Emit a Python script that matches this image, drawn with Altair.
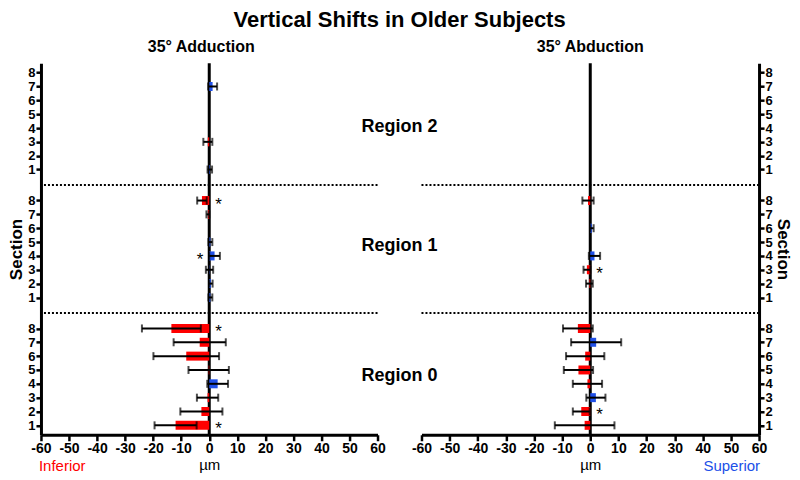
import altair as alt
import pandas as pd

# ---------------- data ----------------
sections = [1, 2, 3, 4, 5, 6, 7, 8]
region_names = ["Region 0", "Region 1", "Region 2"]

# 35° Adduction (µm), per section 1..8; None = not shown
add_r0_mean = [-12.0, -2.8, -0.6, 3.0, -0.2, -8.2, -3.4, -13.5]
add_r0_err = [7.5, 7.5, 3.8, 3.7, 7.2, 11.7, 9.3, 10.5]
add_r1_mean = [0.4, 0.6, 0.1, 1.9, 0.4, None, -0.5, -2.6]
add_r1_err = [0.7, 0.6, 1.3, 1.9, 0.7, None, 0.5, 1.7]
add_r2_mean = [0.2, None, -0.5, None, None, None, 1.2, None]
add_r2_err = [0.8, None, 1.6, None, None, None, 1.6, None]

# 35° Abduction (µm)
abd_r0_mean = [-2.0, -3.2, 2.0, -1.0, -4.2, -1.8, 2.1, -4.4]
abd_r0_err = [10.6, 3.0, 3.4, 5.2, 5.2, 6.8, 8.9, 5.3]
abd_r1_mean = [None, -0.3, -1.2, 1.5, None, 0.6, None, -0.8]
abd_r1_err = [None, 1.2, 1.2, 2.0, None, 0.6, None, 2.0]
abd_r2_mean = [None] * 8
abd_r2_err = [None] * 8

# significance markers: (region, section, side)
add_stars = [(0, 8, 1), (0, 1, 1), (1, 8, 1), (1, 4, -1)]
abd_stars = [(1, 3, 1), (0, 2, 1)]

# region label vertical placement, in section units
region_label_section = [4.6, 4.75, 4.1]

RED = "#FF0000"
BLUE = "#2050E8"
FONT = "Liberation Sans"
STEP = 9.24          # spacing between regions in section units
W_L, W_R, H = 337, 338, 372
GAP = 44


def pos(region, section):
    return region * STEP + section - 1


def frame(means_list, errs_list):
    rows = []
    for r, (ms, es) in enumerate(zip(means_list, errs_list)):
        for s, m, e in zip(sections, ms, es):
            if m is None:
                continue
            rows.append({"region": r, "section": s, "pos": pos(r, s), "mean": m,
                         "lo": m - e, "hi": m + e,
                         "dir": "neg" if m < 0 else "pos"})
    return pd.DataFrame(rows)


add_df = frame([add_r0_mean, add_r1_mean, add_r2_mean], [add_r0_err, add_r1_err, add_r2_err])
abd_df = frame([abd_r0_mean, abd_r1_mean, abd_r2_mean], [abd_r0_err, abd_r1_err, abd_r2_err])

sep_df = pd.DataFrame({"pos": [(pos(r - 1, 8) + pos(r, 1)) / 2 for r in (1, 2)]})
zero_df = pd.DataFrame({"v": [0]})
lab_df = pd.DataFrame({"name": region_names,
                       "pos": [pos(r, s) for r, s in enumerate(region_label_section)]})


def star_df(stars):
    return pd.DataFrame([{"pos": pos(r, s), "x": side * 3.3} for r, s, side in stars])


yscale = alt.Scale(domain=[-0.68, 2 * STEP + 7 + 0.68], nice=False, zero=False, padding=0)
xscale = alt.Scale(domain=[-60, 60], nice=False, zero=False, padding=0)


def y_axis(orient):
    extra = {"titleX": -15} if orient == "left" else {"titlePadding": 1}
    return alt.Axis(orient=orient, values=[pos(r, s) for r in range(3) for s in sections],
                    labelExpr="format(round(datum.value - floor((datum.value + 1.5) / %s) * %s) + 1, 'd')" % (STEP, STEP),
                    title="Section", titleFontSize=17, titleFontWeight="bold",
                    labelFontSize=13, labelFontWeight="bold", labelColor="black",
                    labelOverlap=False, labelBound=False,
                    tickSize=5, tickWidth=2.5, tickColor="black", domainWidth=3,
                    domainColor="black", grid=False, labelPadding=1,
                    titleColor="black", labelFont=FONT, titleFont=FONT, **extra)


x_axis = alt.Axis(values=list(range(-60, 61, 10)), labelExpr="'' + datum.value",
                  title="µm", titleFontSize=15, titleFontWeight="normal", titleColor="black",
                  labelFontSize=14, labelFontWeight="bold", labelColor="black",
                  labelOverlap=False, labelFlush=False,
                  tickSize=6, tickWidth=2.5, tickColor="black", domainWidth=3,
                  domainColor="black", grid=False, labelPadding=1, titlePadding=2,
                  labelFont=FONT, titleFont=FONT)


def panel(df, stars, orient, title, width, left):
    Y = alt.Y("pos:Q", scale=yscale, axis=y_axis(orient))

    def X(field):
        return alt.X(field, type="quantitative", scale=xscale, axis=x_axis)

    seps = alt.Chart(sep_df).mark_rule(color="black", strokeWidth=2, strokeDash=[2, 2]).encode(y=Y)
    zero = alt.Chart(zero_df).mark_rule(color="black", strokeWidth=3).encode(x=X("v"))
    layers = [seps, zero]
    if len(df):
        bars = alt.Chart(df).mark_bar(size=9, orient="horizontal").encode(
            y=Y, x=X("mean"), x2=alt.datum(0),
            color=alt.Color("dir:N", scale=alt.Scale(domain=["neg", "pos"], range=[RED, BLUE]), legend=None))
        err = alt.Chart(df).mark_rule(color="black", strokeWidth=2).encode(y=Y, x=X("lo"), x2="hi")
        caps = alt.Chart(df).transform_fold(["lo", "hi"], as_=["k", "end"]).mark_tick(
            orient="vertical", size=8, thickness=2, color="black").encode(y=Y, x=X("end:Q"))
        layers += [bars, err, caps]
    st = alt.Chart(star_df(stars)).mark_text(text="*", fontSize=17, font=FONT, dy=4,
                                             color="black").encode(y=Y, x=X("x"))
    layers.append(st)
    if left:
        labs = alt.Chart(lab_df).mark_text(fontSize=18, fontWeight="bold", font=FONT,
                                           color="black", align="center", baseline="middle").encode(
            y=Y, x=alt.value(width + GAP / 2), text="name:N")
        inf = alt.Chart(zero_df).mark_text(text="Inferior", fontSize=15, font=FONT, color=RED,
                                           align="left", baseline="middle").encode(
            x=alt.value(-2), y=alt.value(H + 31))
        layers += [labs, inf]
    else:
        sup = alt.Chart(zero_df).mark_text(text="Superior", fontSize=15, font=FONT, color=BLUE,
                                           align="right", baseline="middle").encode(
            x=alt.value(width + 1), y=alt.value(H + 31))
        layers.append(sup)
    return alt.layer(*layers).properties(
        width=width, height=H,
        title=alt.TitleParams(title, fontSize=16, fontWeight="bold", font=FONT, color="black",
                              offset=7, dx=-8 if left else 0))


chart = alt.hconcat(
    panel(add_df, add_stars, "left", "35° Adduction", W_L, True),
    panel(abd_df, abd_stars, "right", "35° Abduction", W_R, False),
    spacing=GAP, bounds="flush",
).properties(
    title=alt.TitleParams("Vertical Shifts in Older Subjects", fontSize=22, fontWeight="bold",
                          font=FONT, color="black", anchor="middle", offset=7),
    padding={"left": 0, "top": 0, "right": 0, "bottom": 0},
).configure(font=FONT).configure_view(stroke="transparent", strokeWidth=0)

chart.save("out.html", embed_options={"renderer": "svg", "actions": False})
